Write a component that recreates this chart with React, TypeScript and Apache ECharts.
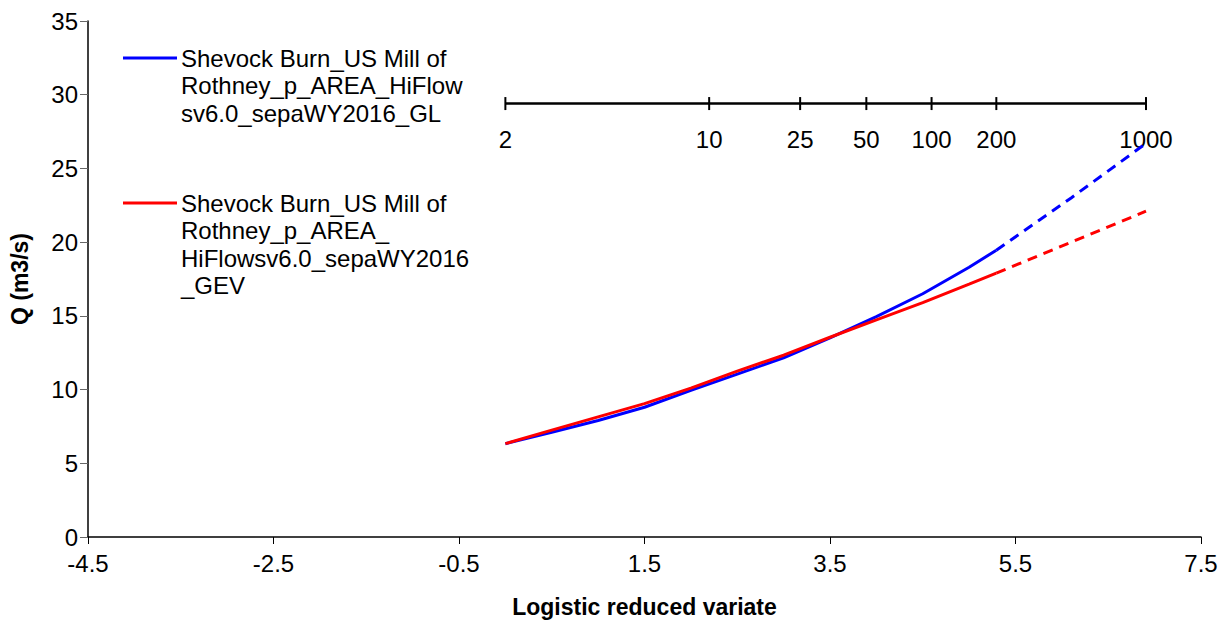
import React, { useEffect, useRef } from "react";
import * as echarts from "echarts";

const FONT = '"Liberation Sans", Arial, Helvetica, sans-serif';

// Axis ranges
const xMin = -4.5;
const xMax = 7.5;
const xStep = 2;
const yMin = 0;
const yMax = 35;
const yStep = 5;

// Return-period scale drawn inside the plot (logistic reduced variate = ln(T - 1))
const returnPeriods = [2, 10, 25, 50, 100, 200, 1000];
const returnPeriodScaleQ = 29.4;

// Fitted growth curves, fitted range (solid)
const fittedVariate = [0, 0.5, 1.0, 1.5, 2.0, 2.5, 3.0, 3.5, 4.0, 4.5, 5.0, 5.293];
const glFitted = [6.33, 7.1, 7.9, 8.8, 9.95, 11.05, 12.15, 13.5, 14.95, 16.5, 18.3, 19.45];
const gevFitted = [6.33, 7.25, 8.15, 9.05, 10.1, 11.25, 12.33, 13.55, 14.73, 15.9, 17.15, 17.9];

// Extrapolated range (dashed)
const extrapVariate = [5.293, 6.1, 6.907];
const glExtrap = [19.45, 23.0, 26.7];
const gevExtrap = [17.9, 20.0, 22.1];

const glName = "Shevock Burn_US Mill of\nRothney_p_AREA_HiFlow\nsv6.0_sepaWY2016_GL";
const gevName = "Shevock Burn_US Mill of\nRothney_p_AREA_\nHiFlowsv6.0_sepaWY2016\n_GEV";

const BLUE = "#0000ff";
const RED = "#ff0000";

const pairs = (xs: number[], ys: number[]) => xs.map((x, i) => [x, ys[i]]);

export default function App() {
  const ref = useRef<HTMLDivElement>(null);

  useEffect(() => {
    if (!ref.current) return;
    const chart = echarts.init(ref.current, null, { renderer: "svg" });

    const rpData = returnPeriods.map((t) => [Math.log(t - 1), returnPeriodScaleQ]);

    const legendEntry = (y: number, color: string, text: string) => [
      {
        type: "line",
        shape: { x1: 123, y1: y, x2: 177, y2: y },
        style: { stroke: color, lineWidth: 3 },
      },
      {
        type: "text",
        x: 181,
        y: y - 13.75,
        style: {
          text,
          fill: "#000",
          font: `24px ${FONT}`,
          lineHeight: 27.5,
          verticalAlign: "top",
          align: "left",
        },
      },
    ];

    chart.setOption({
      animation: false,
      backgroundColor: "#ffffff",
      textStyle: { fontFamily: FONT },
      grid: { left: 88, right: 20, top: 21, bottom: 86, containLabel: false },
      xAxis: {
        type: "value",
        min: xMin,
        max: xMax,
        interval: xStep,
        name: "Logistic reduced variate",
        nameLocation: "middle",
        nameGap: 58,
        nameTextStyle: { fontFamily: FONT, fontSize: 23, fontWeight: "bold", color: "#000" },
        axisLine: { onZero: false, lineStyle: { color: "#000", width: 1.5 } },
        axisTick: { show: true, inside: false, length: 7, lineStyle: { color: "#000", width: 1 } },
        axisLabel: {
          fontFamily: FONT,
          fontSize: 24,
          color: "#000",
          margin: 14,
          formatter: (v: number) => v.toFixed(1),
        },
        splitLine: { show: false },
      },
      yAxis: {
        type: "value",
        min: yMin,
        max: yMax,
        interval: yStep,
        name: "Q (m3/s)",
        nameLocation: "middle",
        nameGap: 57,
        nameTextStyle: { fontFamily: FONT, fontSize: 23, fontWeight: "bold", color: "#000" },
        axisLine: { show: true, onZero: false, lineStyle: { color: "#000", width: 1.5 } },
        axisTick: { show: true, inside: false, length: 8, lineStyle: { color: "#666", width: 1 } },
        axisLabel: { fontFamily: FONT, fontSize: 24, color: "#000", margin: 10 },
        splitLine: { show: false },
      },
      series: [
        {
          name: "Return period",
          type: "line",
          data: rpData,
          silent: true,
          symbol: "rect",
          symbolSize: [2, 13],
          itemStyle: { color: "#000" },
          lineStyle: { color: "#000", width: 2.5 },
          label: {
            show: true,
            position: "bottom",
            distance: 17,
            fontFamily: FONT,
            fontSize: 24,
            color: "#000",
            formatter: (p: any) => String(returnPeriods[p.dataIndex]),
          },
          z: 1,
        },
        {
          name: glName,
          type: "line",
          data: pairs(fittedVariate, glFitted),
          showSymbol: false,
          symbol: "none",
          lineStyle: { color: BLUE, width: 3 },
          z: 3,
        },
        {
          name: gevName,
          type: "line",
          data: pairs(fittedVariate, gevFitted),
          showSymbol: false,
          symbol: "none",
          lineStyle: { color: RED, width: 3 },
          z: 4,
        },
        {
          name: glName + " (extrapolated)",
          type: "line",
          data: pairs(extrapVariate, glExtrap),
          showSymbol: false,
          symbol: "none",
          lineStyle: { color: BLUE, width: 3, type: [10, 7] },
          z: 3,
        },
        {
          name: gevName + " (extrapolated)",
          type: "line",
          data: pairs(extrapVariate, gevExtrap),
          showSymbol: false,
          symbol: "none",
          lineStyle: { color: RED, width: 3, type: [10, 7] },
          z: 4,
        },
      ],
      graphic: [...legendEntry(58, BLUE, glName), ...legendEntry(203, RED, gevName)],
    });

    return () => chart.dispose();
  }, []);

  return (
    <div
      ref={ref}
      style={{ position: "fixed", left: 0, top: 0, width: 1221, height: 623, background: "#fff" }}
    />
  );
}
